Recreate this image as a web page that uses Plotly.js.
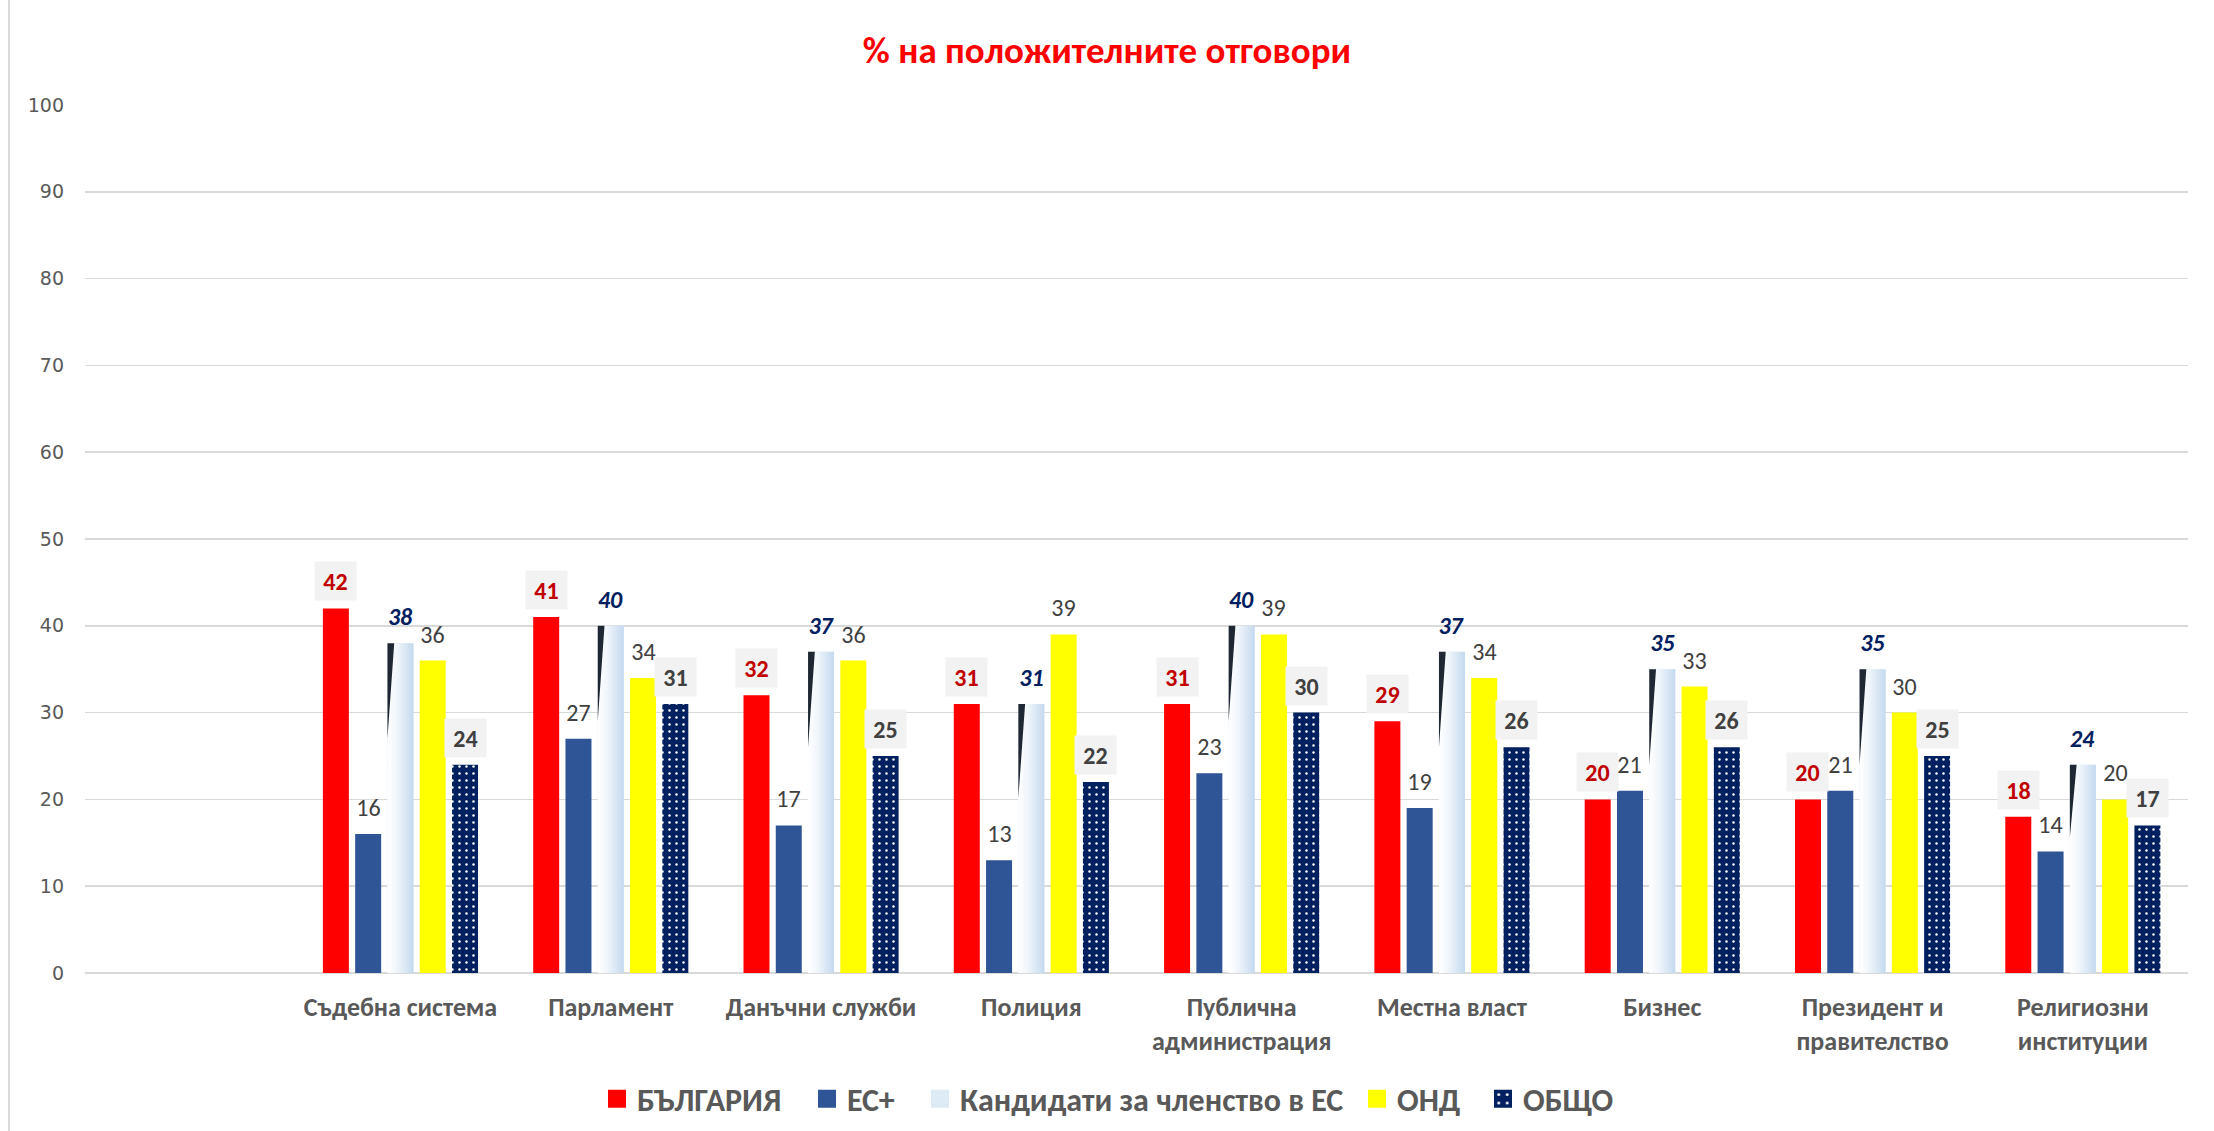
<!DOCTYPE html>
<html><head><meta charset="utf-8">
<script src="https://cdn.plot.ly/plotly-3.0.1.min.js"></script>
<style>html,body{margin:0;padding:0;background:#fff}#chart{width:2214px;height:1131px}</style>
</head><body><div id="chart"></div>
<script>
// ---- data ----
const categories = ['Съдебна система','Парламент','Данъчни служби','Полиция','Публична<br>администрация','Местна власт','Бизнес','Президент и<br>правителство','Религиозни<br>институции'];
const seriesNames = ['БЪЛГАРИЯ','ЕС+','Кандидати за членство в ЕС','ОНД','ОБЩО'];
const bulgaria   = [42,41,32,31,31,29,20,20,18];
const euPlus     = [16,27,17,13,23,19,21,21,14];
const candidates = [38,40,37,31,40,37,35,35,24];
const cis        = [36,34,36,39,39,34,33,30,20];
const total      = [24,31,25,22,30,26,26,25,17];
const yTicks = [0,10,20,30,40,50,60,70,80,90,100];

// ---- layout constants ----
const SLOT = 0.1535, BARW = 0.1236;
const pos = categories.map((c,i)=>i+1);   // slot 0 left empty as in the original
const FONT = 'Carlito, "Liberation Sans", Arial, sans-serif';
const series = [bulgaria, euPlus, candidates, cis, total];
const colors = ['#FF0000','#2F5597','#DDEBF7','#FFFF00','#002060'];
const legendIds = ['legend','legend2','legend3','legend4','legend5'];
const legendTextStartPx = [637, 847, 960, 1397, 1523];

const traces = series.map((vals,k)=>{
  const t = {
    type:'bar', name: seriesNames[k], x: pos, y: vals, legend: legendIds[k],
    width: BARW, offset: (k-2)*SLOT - BARW/2,
    marker:{color: colors[k], line:{width:0}},
    hoverinfo:'skip'
  };
  if (k===4) t.marker.pattern = {shape:'.', fgcolor:'#FFFFFF', bgcolor:'#002060', size:7, solidity:0.1, fillmode:'replace'};
  return t;
});

// gradient overlays for the candidate bars
candidates.forEach((v,i)=>{
  const L = pos[i] - BARW/2, R = pos[i] + BARW/2;
  traces.push({
    type:'scatter', mode:'lines', x:[L,R,R,L,L], y:[0,0,v,v,0],
    fill:'toself', line:{width:0, color:'rgba(0,0,0,0)'},
    fillgradient:{type:'horizontal', colorscale:[[0,'#FFFFFF'],[0.35,'#F1F6FB'],[1,'#C4D9EF']]},
    showlegend:false, hoverinfo:'skip'
  });
});
// dark wedge at top-left of candidate bars
const wx = [], wy = [];
candidates.forEach((v,i)=>{
  const L = pos[i] - BARW/2;
  const h = Math.min(11, v*0.35);
  wx.push(L, L+BARW*0.26, L, L, null);
  wy.push(v, v, v-h, v, null);
});
traces.push({type:'scatter', mode:'lines', x:wx, y:wy, fill:'toself', fillcolor:'#1E2733',
  line:{width:0, color:'rgba(0,0,0,0)'}, showlegend:false, hoverinfo:'skip'});

// ---- data labels ----
const labelStyle = [
  {color:'#C00000', b:true,  i:false, box:true},
  {color:'#404040', b:false, i:false, box:false},
  {color:'#002060', b:true,  i:true,  box:false},
  {color:'#404040', b:false, i:false, box:false},
  {color:'#404040', b:true,  i:false, box:true}
];
const annotations = [];
series.forEach((vals,k)=>{
  const s = labelStyle[k];
  vals.forEach((v,i)=>{
    let txt = String(v);
    if (s.i) txt = '<i>'+txt+'</i>';
    if (s.b) txt = '<b>'+txt+'</b>';
    annotations.push({
      x: pos[i] + (k-2)*SLOT, y: v, xref:'x', yref:'y',
      text: txt, showarrow:false, yanchor:'bottom', xanchor:'center', yshift:7,
      font:{family:FONT, size:24, color:s.color},
      bgcolor: s.box ? '#F2F2F2' : 'rgba(0,0,0,0)',
      borderpad:4, width:33, height:30
    });
  });
});

const layout = {
  width:2214, height:1131,
  margin:{l:85, r:26, t:105, b:158},
  paper_bgcolor:'#FFFFFF', plot_bgcolor:'#FFFFFF',
  title:{text:'<b>% на положителните отговори</b>', font:{family:FONT, size:37, color:'#FF0000'},
         x:0.5, xref:'container', xanchor:'center', y:1-50/1131, yref:'container', yanchor:'middle'},
  barmode:'overlay',
  xaxis:{range:[-0.5,9.5], tickmode:'array', tickvals:pos, ticktext:categories,
         showgrid:false, zeroline:false, showline:false, ticks:'', automargin:false,
         ticklabelstandoff:16,
         tickfont:{family:FONT, size:26, color:'#595959', weight:'bold'}},
  yaxis:{range:[0,100], tickmode:'array', tickvals:yTicks, showgrid:true, gridcolor:'#D9D9D9', gridwidth:1.5,
         zeroline:true, zerolinecolor:'#D9D9D9', zerolinewidth:2, showline:false, ticks:'',
         ticklabelstandoff:20, automargin:false,
         tickfont:{family:'"DejaVu Sans", Verdana, sans-serif', size:19, color:'#595959'}},
  annotations: annotations,
  shapes:[{type:'line', xref:'paper', yref:'paper', x0:(9-85)/2103, x1:(9-85)/2103, y0:-158/868, y1:1+105/868,
           line:{color:'#D9D9D9', width:2}}],
  showlegend:true
};
legendIds.forEach((id,k)=>{
  layout[id] = {orientation:'h', xref:'container', yref:'container',
    x:(legendTextStartPx[k]-40)/2214, xanchor:'left', y:1-1099/1131, yanchor:'middle',
    font:{family:FONT, size:32, color:'#595959', weight:'bold'}, itemwidth:30,
    bgcolor:'rgba(0,0,0,0)'};
});

Plotly.newPlot('chart', traces, layout, {displayModeBar:false, staticPlot:true}).then(()=>{
  // enlarge the legend swatches to match the original's 18px squares
  document.querySelectorAll('#chart .legendpoints').forEach(g=>{
    g.setAttribute('transform','translate(20,0) scale(1.5) translate(-20,0)');
  });
});
</script>
</body></html>
